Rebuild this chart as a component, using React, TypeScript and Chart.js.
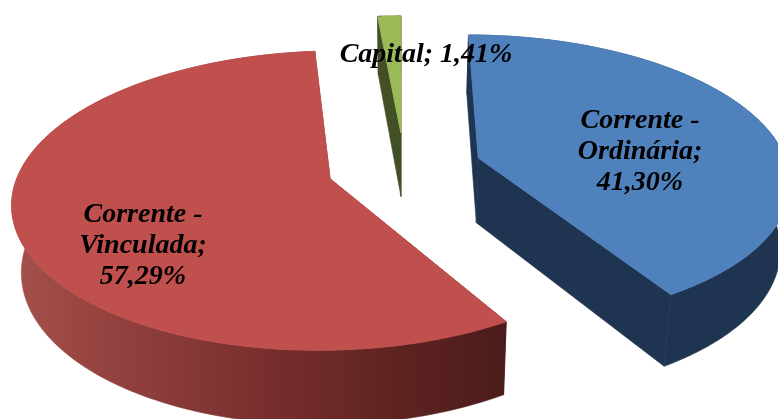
import React, { useEffect, useRef } from "react";
import { Chart, registerables } from "chart.js";

Chart.register(...registerables);

const categories = ["Corrente - Ordinária", "Corrente - Vinculada", "Capital"];
const values = [41.3, 57.29, 1.41];
const valueLabels = ["41,30%", "57,29%", "1,41%"];
const topColors = ["#4f81bd", "#c0504d", "#9bbb59"];
const labelLines = [
  ["Corrente -", "Ordinária;", "41,30%"],
  ["Corrente -", "Vinculada;", "57,29%"],
  ["Capital; 1,41%"],
];
const labelCenters = [
  [640, 120.5],
  [143, 214.5],
  [426, 55],
];

// Projection of the pie's ground plane on the picture
const VANISH_X = 400;
const VANISH_Y = -825;
const PERSP = 1025;
const RADIUS_X = 320;
const K = 0.149;
const CENTER_U = 0.0144;
const CENTER_V = -0.22;
const EXPLODE = 0.25;

function project(u: number, v: number): [number, number] {
  const w = 1 - K * v;
  return [VANISH_X + (RADIUS_X * u) / w, VANISH_Y + PERSP / w];
}
function lower(p: [number, number]): [number, number] {
  return [VANISH_X + 0.975 * (p[0] - VANISH_X), 1.05 * p[1] + 57];
}

function path(ctx: CanvasRenderingContext2D, pts: [number, number][]) {
  ctx.beginPath();
  pts.forEach((p, i) => (i ? ctx.lineTo(p[0], p[1]) : ctx.moveTo(p[0], p[1])));
  ctx.closePath();
}

const pie3d = {
  id: "pie3d",
  beforeDatasetsDraw(chart: any) {
    const ctx: CanvasRenderingContext2D = chart.ctx;
    const arcs = chart.getDatasetMeta(0).data;
    const colors = chart.data.datasets[0].backgroundColor as string[];
    // green (back) first, then blue, then red
    const order = [2, 0, 1];
    const flat = ["#1f3450", "#4b1c1b", "#434f25"];
    for (const i of order) {
      const a0 = arcs[i].startAngle;
      const a1 = arcs[i].endAngle;
      const mid = (a0 + a1) / 2;
      const cu = CENTER_U + EXPLODE * Math.cos(mid);
      const cv = CENTER_V + EXPLODE * Math.sin(mid);
      const apex = project(cu, cv);
      const rim: [number, number][] = [];
      const n = 160;
      for (let k = 0; k <= n; k++) {
        const a = a0 + ((a1 - a0) * k) / n;
        rim.push(project(cu + Math.cos(a), cv + Math.sin(a)));
      }
      const rimLow = rim.map(lower);
      const apexLow = lower(apex);
      let wall: string | CanvasGradient = flat[i];
      if (i === 1) {
        const g = ctx.createLinearGradient(15, 0, 505, 0);
        g.addColorStop(0, "#a5504c");
        g.addColorStop(0.25, "#8f3e3b");
        g.addColorStop(0.5, "#7a2f2e");
        g.addColorStop(0.78, "#5e2321");
        g.addColorStop(1, "#4b1c1b");
        wall = g;
      }
      ctx.fillStyle = wall;
      ctx.strokeStyle = wall;
      ctx.lineWidth = 0.6;
      path(ctx, [apex, rim[0], rimLow[0], apexLow]);
      ctx.fill();
      ctx.stroke();
      path(ctx, [apex, rim[n], rimLow[n], apexLow]);
      ctx.fill();
      ctx.stroke();
      path(ctx, [...rim, ...rimLow.slice().reverse()]);
      ctx.fill();
      ctx.stroke();
      ctx.fillStyle = colors[i];
      ctx.strokeStyle = colors[i];
      ctx.lineWidth = 1;
      path(ctx, [apex, ...rim]);
      ctx.fill();
      ctx.stroke();
    }
    ctx.save();
    ctx.fillStyle = "#000";
    ctx.font = "italic bold 28px 'Liberation Serif', serif";
    ctx.textAlign = "center";
    ctx.textBaseline = "middle";
    labelLines.forEach((lines, i) => {
      lines.forEach((t, j) => {
        ctx.fillText(t, labelCenters[i][0], labelCenters[i][1] + j * 31);
      });
    });
    ctx.restore();
    return false;
  },
};

export default function App() {
  const ref = useRef<HTMLCanvasElement>(null);
  useEffect(() => {
    const chart = new Chart(ref.current!, {
      type: "pie",
      data: {
        labels: categories,
        datasets: [{ data: values, backgroundColor: topColors, borderWidth: 0 }],
      },
      options: {
        animation: false,
        responsive: false,
        plugins: { legend: { display: false }, tooltip: { enabled: false } },
      },
      plugins: [pie3d as any],
    });
    return () => chart.destroy();
  }, []);
  return (
    <div style={{ position: "fixed", left: 0, top: 0, width: 778, height: 419, background: "#fff", overflow: "hidden" }}>
      <canvas ref={ref} width={778} height={419} style={{ display: "block" }} aria-label={valueLabels.join(" ")} />
    </div>
  );
}
